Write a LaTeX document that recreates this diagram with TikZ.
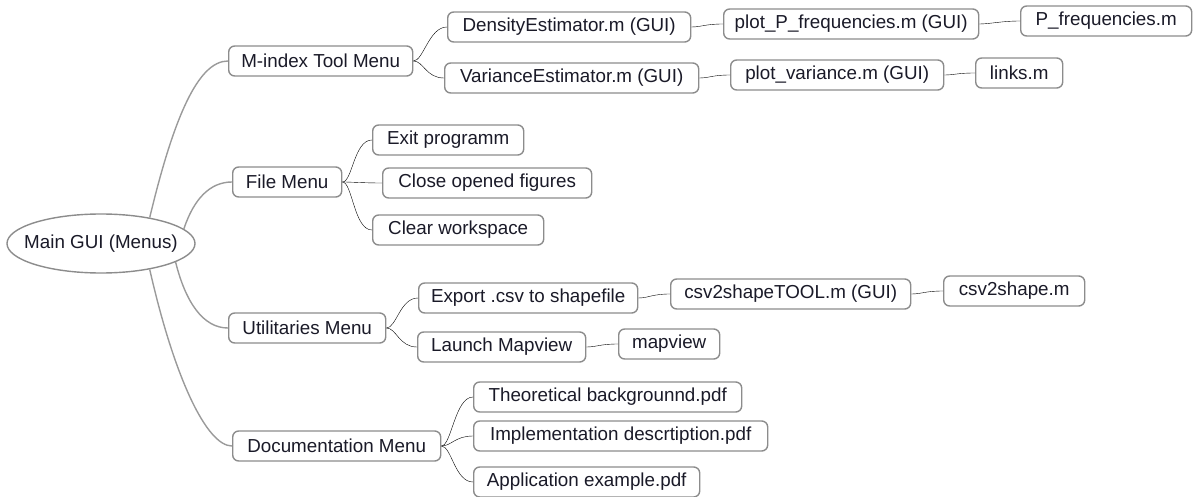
\documentclass[tikz,border=0pt]{standalone}
\usepackage{fontspec}
\setmainfont{Liberation Sans}
\usetikzlibrary{shapes.geometric}
\definecolor{edgegray}{HTML}{9A9A9A}
\definecolor{boxgray}{HTML}{8C8C8C}
\definecolor{txt}{HTML}{1A1A28}
\tikzset{
  box/.style={draw=boxgray, line width=1.4pt, rounded corners=6pt, fill=white,
    minimum height=30pt, inner xsep=6pt, inner ysep=0pt, anchor=west,
    text=txt, font=\fontsize{18.8}{22}\selectfont},
  rootnode/.style={draw=boxgray, line width=1.4pt, ellipse, fill=white,
    minimum width=188pt, minimum height=59pt, inner xsep=-12pt, inner ysep=0pt,
    text=txt, font=\fontsize{18.8}{22}\selectfont},
  link/.style={draw=edgegray, line width=1.4pt},
  branch/.style={link, to path={.. controls +(10,0) and +(-18,0) .. (\tikztotarget)}},
}
\begin{document}
\begin{tikzpicture}[x=1pt,y=-1pt]
\useasboundingbox (0,0) rectangle (1194,497);
% nodes
\node[rootnode] (main) at (101,243.5) {Main GUI (Menus)};
\node[box, minimum width=184pt] (mindex) at (228,61) {M-index Tool Menu};
\node[box, minimum width=109pt] (file) at (232,182) {File Menu};
\node[box, minimum width=157pt] (util) at (228,328) {Utilitaries Menu};
\node[box, minimum width=208pt] (doc) at (232,446) {Documentation Menu};
\node[box, minimum width=243pt] (dens) at (447,27) {DensityEstimator.m (GUI)};
\node[box, minimum width=254pt] (var) at (444,78) {VarianceEstimator.m (GUI)};
\node[box, minimum width=255pt] (plotP) at (723,24) {plot\_P\_frequencies.m (GUI)};
\node[box, minimum width=171pt] (pfreq) at (1020,21) {P\_frequencies.m};
\node[box, minimum width=213pt] (plotvar) at (730,75) {plot\_variance.m (GUI)};
\node[box, minimum width=87pt] (links) at (975,73) {links.m};
\node[box, minimum width=151pt] (exit) at (372,140) {Exit programm};
\node[box, minimum width=209pt] (close) at (382,183) {Close opened figures};
\node[box, minimum width=171pt] (clear) at (372,230) {Clear workspace};
\node[box, minimum width=219pt] (export) at (418,298) {Export .csv to shapefile};
\node[box, minimum width=168pt] (launch) at (417,347) {Launch Mapview};
\node[box, minimum width=240pt] (csvtool) at (670,294) {csv2shapeTOOL.m (GUI)};
\node[box, minimum width=141pt] (csv2) at (943,291) {csv2shape.m};
\node[box, minimum width=101pt] (mapview) at (618,344) {mapview};
\node[box, minimum width=268pt] (theo) at (473,397) {Theoretical backgrounnd.pdf};
\node[box, minimum width=294pt] (impl) at (473,436) {Implementation descrtiption.pdf};
\node[box, minimum width=226pt] (appl) at (473,482) {Application example.pdf};
% root connectors
\draw[link] (main.28) .. controls +(24,-100) and +(-30,0) .. (mindex.west);
\draw[link] (main.10) .. controls +(10,-30) and +(-22,0) .. (file.west);
\draw[link] (main.-14) .. controls +(10,40) and +(-25,0) .. (util.west);
\draw[link] (main.-28) .. controls +(25,110) and +(-25,0) .. (doc.west);
% branch connectors
\draw (mindex.east) to[branch] (dens.west);
\draw (mindex.east) to[branch] (var.west);
\draw (dens.east) to[branch] (plotP.west);
\draw (plotP.east) to[branch] (pfreq.west);
\draw (var.east) to[branch] (plotvar.west);
\draw (plotvar.east) to[branch] (links.west);
\draw (file.east) to[branch] (exit.west);
\draw (file.east) to[branch] (close.west);
\draw (file.east) to[branch] (clear.west);
\draw (util.east) to[branch] (export.west);
\draw (util.east) to[branch] (launch.west);
\draw (export.east) to[branch] (csvtool.west);
\draw (csvtool.east) to[branch] (csv2.west);
\draw (launch.east) to[branch] (mapview.west);
\draw (doc.east) to[branch] (theo.west);
\draw (doc.east) to[branch] (impl.west);
\draw (doc.east) to[branch] (appl.west);
\end{tikzpicture}
\end{document}
